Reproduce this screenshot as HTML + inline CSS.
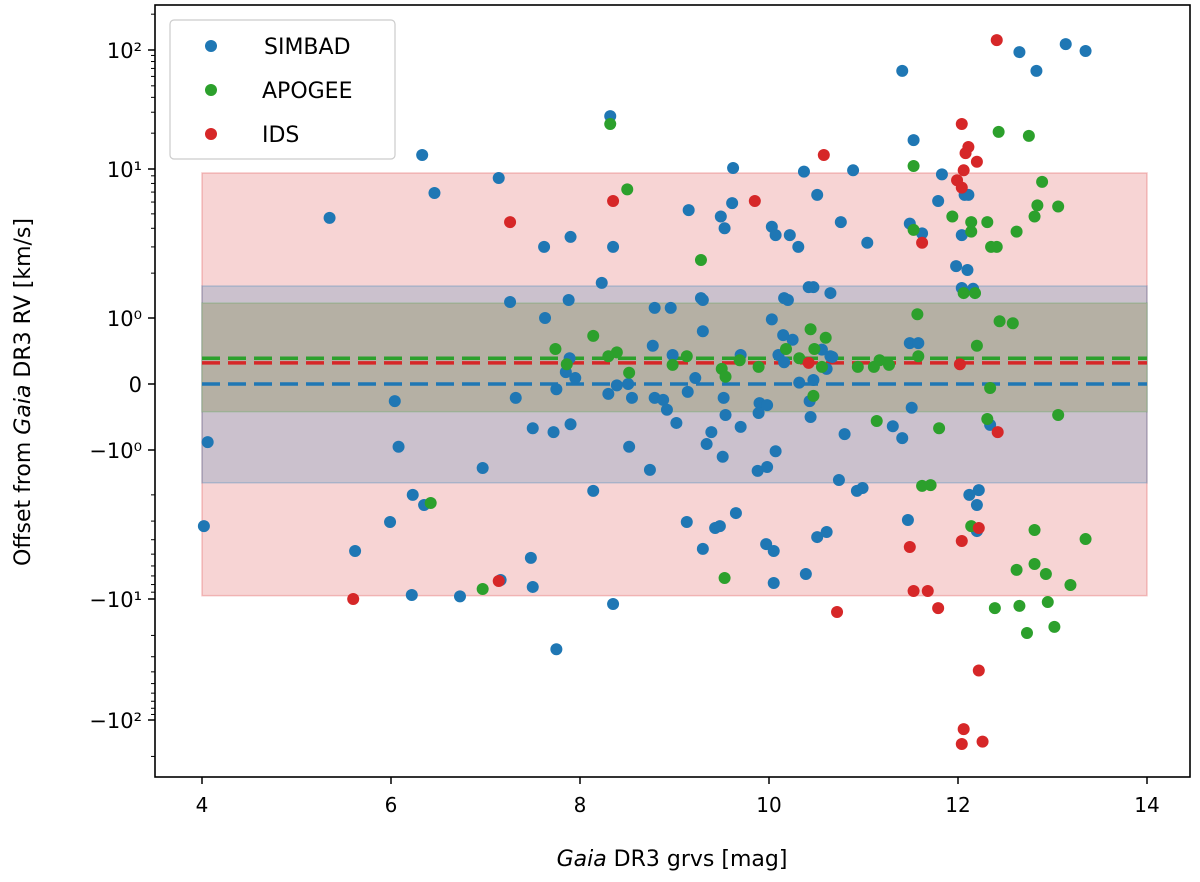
<!DOCTYPE html>
<html><head><meta charset="utf-8"><style>
body{margin:0;background:#fff;}
svg{display:block;font-family:"DejaVu Sans","Liberation Sans",sans-serif;}
</style></head><body>
<svg id="chart" width="1200" height="882" viewBox="0 0 1200 882" xmlns="http://www.w3.org/2000/svg">
<g id="bands"></g>
<g id="lines"></g>
<g id="points"></g>
<rect x="155" y="5" width="1035" height="772" fill="none" stroke="#000" stroke-width="1.6"/>
<g id="xaxis"></g>
<g id="yaxis"></g>
<text x="672" y="866" font-size="22" text-anchor="middle"><tspan font-style="italic">Gaia</tspan> DR3 grvs [mag]</text>
<text transform="translate(30,392) rotate(-90)" font-size="22" text-anchor="middle">Offset from <tspan font-style="italic">Gaia</tspan> DR3 RV [km/s]</text>
<g>
<rect x="170" y="20" width="225" height="139" rx="4" fill="#fff" fill-opacity="0.8" stroke="#ccc" stroke-width="1.2"/>
<circle cx="211" cy="46" r="6" fill="#1f77b4"/>
<text x="264" y="54" font-size="22">SIMBAD</text>
<circle cx="211" cy="90" r="6" fill="#2ca02c"/>
<text x="262" y="98" font-size="22">APOGEE</text>
<circle cx="211" cy="134" r="6" fill="#d62728"/>
<text x="262" y="142" font-size="22">IDS</text>
</g>
</svg>
<script>
const simbadMag=[4.02,4.06,5.35,5.62,6.04,6.08,5.99,6.23,6.35,6.22,6.33,6.46,6.73,6.97,7.14,7.26,7.16,7.32,7.5,7.48,7.5,7.62,7.63,7.72,7.75,7.9,7.88,7.9,8.23,8.32,8.35,8.52,8.14,8.35,8.74,8.79,8.77,8.96,9.3,9.3,10.2,10.03,10.47,10.65,10.15,10.25,10.1,10.16,10.56,10.65,10.61,10.47,10.32,10.43,10.44,7.89,7.85,7.95,7.75,8.3,8.39,8.51,8.55,8.98,9.22,9.14,8.79,8.88,8.92,9.02,9.39,9.34,9.52,9.54,9.7,9.51,9.9,9.98,9.89,10.07,9.88,9.98,10.74,9.7,12.1,12.16,11.49,11.58,10.67,11.51,11.31,11.41,10.8,10.99,12.34,12.22,11.41,12.65,12.83,13.14,13.35,11.53,9.62,10.37,10.89,11.83,10.51,9.15,9.61,9.49,9.53,10.03,10.07,10.22,10.31,10.76,11.04,11.49,11.62,11.79,12.07,12.11,12.04,11.98,12.04,9.28,10.16,10.42,10.93,12.12,12.2,11.47,12.2,9.13,9.43,9.48,9.65,9.3,9.97,10.05,10.51,10.61,10.39,10.05];
const simbadOff=[-3.24,-0.88,4.7,-4.76,-0.26,-0.95,-3.04,-2.0,-2.34,-9.4,13.1,6.9,-9.6,-1.32,8.7,1.28,-7.45,-0.21,-0.67,-5.3,-8.3,3.0,1.0,-0.73,-26,3.5,1.32,-0.61,1.72,27.8,3.0,-0.95,-1.88,-11,-1.36,1.17,0.58,1.17,1.32,0.8,1.32,0.98,1.61,1.47,0.74,0.67,0.44,0.33,0.52,0.42,0.23,0.06,0.02,-0.26,-0.5,0.39,0.18,0.09,-0.08,-0.15,-0.02,0.0,-0.21,0.44,0.09,-0.12,-0.21,-0.24,-0.39,-0.59,-0.73,-0.91,-0.21,-0.47,-0.65,-1.11,-0.29,-0.32,-0.44,-1.02,-1.38,-1.3,-1.59,0.44,2.1,1.57,0.62,0.62,0.41,-0.36,-0.64,-0.82,-0.76,-1.8,-0.62,-1.86,66.7,96,66.7,112,98,17.5,10.2,9.6,9.8,9.2,6.7,5.3,5.9,4.8,4.0,4.1,3.6,3.6,3.0,4.4,3.2,4.3,3.7,6.1,6.7,6.7,3.6,2.23,1.59,1.36,1.36,1.61,-1.88,-2.0,-2.34,-2.95,-3.5,-3.04,-3.34,-3.24,-2.65,-4.61,-4.28,-4.76,-3.84,-3.55,-6.79,-7.81];
const apogeeMag=[8.32,8.5,8.14,7.74,7.86,8.3,8.39,8.52,9.69,9.5,9.54,9.89,10.18,10.32,10.44,10.48,10.6,10.56,10.47,9.13,8.98,11.57,12.44,12.58,12.2,12.18,11.58,10.94,11.11,11.27,11.17,12.34,11.14,11.8,12.31,13.06,11.71,6.42,6.97,9.28,11.53,12.43,12.75,12.89,12.84,12.81,13.06,11.94,12.14,12.14,12.31,11.53,12.62,12.35,12.41,12.06,11.62,9.53,12.14,12.81,13.35,12.62,12.81,12.93,13.19,12.39,12.65,12.95,12.73,13.02];
const apogeeOff=[23.9,7.3,0.73,0.53,0.3,0.42,0.48,0.17,0.36,0.23,0.11,0.26,0.53,0.39,0.83,0.53,0.7,0.26,-0.18,0.42,0.29,1.06,0.95,0.92,0.58,1.47,0.42,0.26,0.26,0.29,0.36,-0.06,-0.56,-0.67,-0.53,-0.47,-1.72,-2.27,-8.57,2.45,10.6,20.5,19,8.2,5.7,4.8,5.6,4.8,4.4,3.8,4.4,3.9,3.8,3.0,3.0,1.47,-1.74,-7.23,-3.24,-3.44,-3.96,-6.38,-5.82,-6.79,-8.06,-11.9,-11.4,-10.6,-19.1,-17];
const idsMag=[7.26,8.35,5.6,7.14,12.02,12.42,10.42,12.41,9.85,10.58,12.04,12.11,12.08,12.2,12.06,11.99,12.04,11.62,12.22,12.04,11.49,11.53,11.68,11.79,10.72,12.22,12.06,12.04,12.26];
const idsOff=[4.4,6.1,-10,-7.57,0.3,-0.73,0.32,121,6.1,13.1,23.9,15.3,13.6,11.5,9.8,8.4,7.5,3.2,-3.34,-4.08,-4.48,-8.84,-8.84,-11.9,-12.8,-39,-119,-158,-151];
const bandLow=[-9.5,-1.66,-0.42];
const bandHigh=[9.4,1.64,1.26];
const medians=[0.0,0.39,0.32];
const xTicks=[4,6,8,10,12,14];
const yTickVals=[100,10,1,0,-1,-10,-100];
const yTickLabels=["10²","10¹","10⁰","0","−10⁰","−10¹","−10²"];

const NS="http://www.w3.org/2000/svg";
const colors=["#1f77b4","#2ca02c","#d62728"];
function sx(m){return 202+(m-4)*94.5;}
function tr(v){const a=Math.abs(v);return a<=1?v:Math.sign(v)*(1+Math.log10(a));}
const tA=[-3,-2,-1,0,1,2,3],pA=[720,599,450,384,318,169,50];
function sy(v){const t=tr(v);let i=0;if(t<=tA[0])i=0;else if(t>=tA[6])i=5;else{while(t>tA[i+1])i++;}
return pA[i]+(t-tA[i])*(pA[i+1]-pA[i])/(tA[i+1]-tA[i]);}
function mk(tag,attrs,parent){const e=document.createElementNS(NS,tag);for(const k in attrs)e.setAttribute(k,attrs[k]);parent.appendChild(e);return e;}

const bands=document.getElementById('bands');
const bandFills=["rgba(214,39,40,0.2)","rgba(31,119,180,0.2)","rgb(181,176,164)"];
const bandStrokes=["rgba(214,39,40,0.25)","rgba(31,119,180,0.25)","rgba(44,160,44,0.2)"];
const bandLabels=['ids','simbad','apogee'];
for(let i=0;i<3;i++){
  const y1=sy(bandHigh[i]),y2=sy(bandLow[i]);
  const r=mk('rect',{x:sx(4),y:y1,width:sx(14)-sx(4),height:y2-y1,fill:bandFills[i],stroke:bandStrokes[i],'stroke-width':1.5},bands);
  
  
}
const lines=document.getElementById('lines');
const lineNames=['median-simbad','median-apogee','median-ids'];
for(let i=0;i<3;i++){
  const y=sy(medians[i]);
  const l=mk('line',{x1:sx(4),x2:sx(14),y1:y,y2:y,stroke:colors[i],'stroke-width':3.5,'stroke-dasharray':'18 8'},lines);
  
  
}
const pts=document.getElementById('points');
const series=[[simbadMag,simbadOff,'simbad'],[apogeeMag,apogeeOff,'apogee'],[idsMag,idsOff,'ids']];
series.forEach((s,si)=>{
  for(let i=0;i<s[0].length;i++){
    const c=mk('circle',{cx:sx(s[0][i]),cy:sy(s[1][i]),r:6,fill:colors[si]},pts);
    
    
  }
});
const xa=document.getElementById('xaxis');
for(const t of xTicks){
  const x=sx(t);
  const l=mk('line',{x1:x,x2:x,y1:777,y2:784,stroke:'#000','stroke-width':1.5},xa);
  
  
  const tx=mk('text',{x:x,y:812,'font-size':20,'text-anchor':'middle'},xa);
  tx.textContent=t;
  
  
}
const ya=document.getElementById('yaxis');
yTickVals.forEach((v,i)=>{
  const y=sy(v);
  const l=mk('line',{x1:148,x2:155,y1:y,y2:y,stroke:'#000','stroke-width':1.5},ya);
  
  
  const tx=mk('text',{x:142,y:y+8,'font-size':21,'text-anchor':'end'},ya);
  tx.textContent=yTickLabels[i];
  
  
});
for(const sgn of [1,-1]){
  for(const d of [1,10,100]){
    for(let m=2;m<=9;m++){
      const v=sgn*m*d;const y=sy(v);
      if(y<6||y>776)continue;
      const l=mk('line',{x1:151,x2:155,y1:y,y2:y,stroke:'#000','stroke-width':1},ya);
      
      
    }
  }
}
</script>
</body></html>
